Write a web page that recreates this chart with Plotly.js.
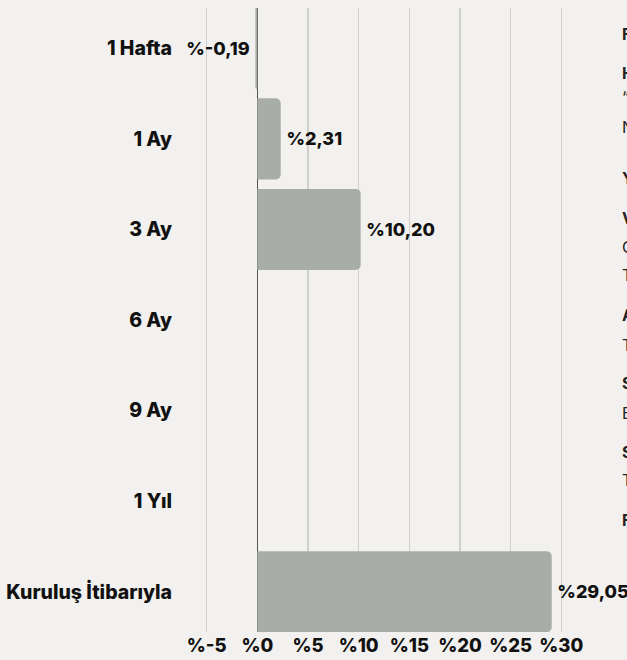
<!DOCTYPE html>
<html>
<head>
<meta charset="utf-8">
<script src="https://cdn.plot.ly/plotly-3.0.1.min.js"></script>
<style>
html,body{margin:0;padding:0;background:#f2f1ef;}
#chart{width:627px;height:660px;}
</style>
</head>
<body>
<div id="chart"></div>
<script>
const categories = ["1 Hafta", "1 Ay", "3 Ay", "6 Ay", "9 Ay", "1 Yıl", "Kuruluş İtibarıyla"];
const values = [-0.19, 2.31, 10.20, null, null, null, 29.05];
const tickValues = [-5, 0, 5, 10, 15, 20, 25, 30];
const tickLabels = ["%-5", "%0", "%5", "%10", "%15", "%20", "%25", "%30"];
const sideLetters = ["F", "H", "“", "N", "Y", "V", "C", "T", "A", "T", "S", "E", "S", "T", "F"];
const sideBold = [true, true, false, false, true, true, false, false, true, false, true, false, true, false, true];
const sideY = [34, 73, 97, 127, 178, 218, 247, 275, 315, 345, 383, 413, 452, 480, 520];

function fmt(v) {
  if (v === null) return "";
  const s = "%" + v.toFixed(2).replace(".", ",");
  return v < 0 ? s + "\u2009" : "\u2009" + s;
}

const FONT = "Inter, 'DejaVu Sans', sans-serif";

const trace = {
  type: "bar",
  orientation: "h",
  y: categories,
  x: values,
  text: values.map(fmt),
  textposition: "outside",
  cliponaxis: false,
  textfont: {family: FONT, size: 18, color: "#111", weight: 800},
  marker: {color: "#a9ada7", cornerradius: 5},
  hoverinfo: "none"
};

const annotations = sideLetters.map((t, i) => ({
  xref: "paper", yref: "paper",
  x: (620 - 180) / (590 - 180),
  y: 1 - (sideY[i] - 8) / 624,
  xanchor: "left", yanchor: "middle",
  text: sideBold[i] ? "<b>" + t + "</b>" : t,
  showarrow: false,
  font: {family: FONT, size: 16, color: "#222"}
}));

const layout = {
  width: 627, height: 660,
  paper_bgcolor: "#f2f1ef",
  plot_bgcolor: "#f2f1ef",
  margin: {l: 180, r: 37, t: 8, b: 28},
  showlegend: false,
  bargap: 0.105,
  xaxis: {
    range: [-7.63, 32.83],
    tickvals: tickValues,
    ticktext: tickLabels,
    showgrid: true,
    gridcolor: "#cfcfcd",
    gridwidth: 1.5,
    zeroline: true,
    zerolinecolor: "#555",
    zerolinewidth: 1.5,
    showline: false,
    ticks: "",
    tickfont: {family: FONT, size: 18.5, color: "#111", weight: 800},
    fixedrange: true
  },
  yaxis: {
    range: [6.445, -0.445],
    type: "category",
    showgrid: false,
    zeroline: false,
    showline: false,
    ticks: "outside",
    ticklen: 3,
    tickcolor: "rgba(0,0,0,0)",
    tickfont: {family: FONT, size: 19.5, color: "#111", weight: 800},
    fixedrange: true
  },
  annotations: annotations
};

Plotly.newPlot("chart", [trace], layout, {displayModeBar: false, staticPlot: true});
</script>
</body>
</html>
